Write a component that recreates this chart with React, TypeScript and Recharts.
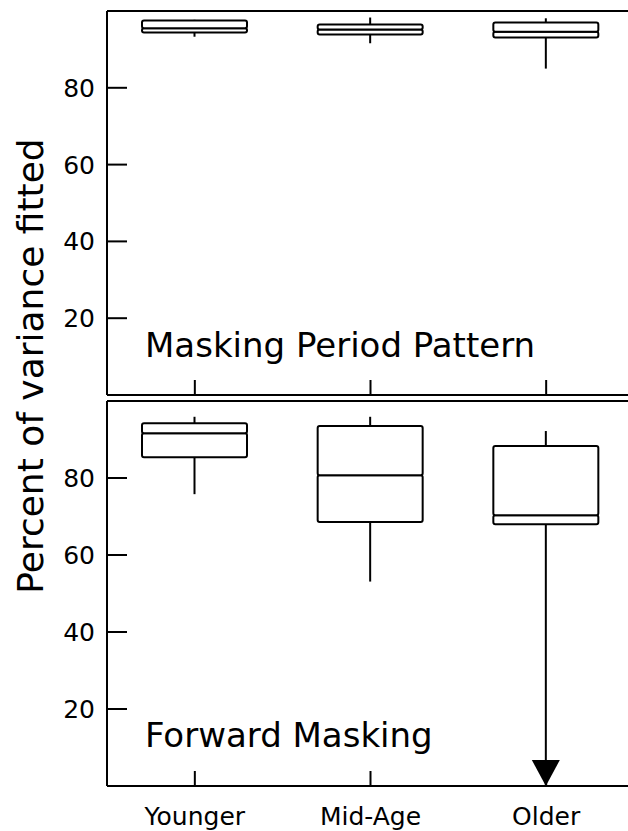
import React from "react"
import { Bar, ComposedChart, XAxis, YAxis } from "recharts"

const groups = ["Younger", "Mid-Age", "Older"]
const yTicks = [20, 40, 60, 80]

// Masking Period Pattern
const mppMin = [93.3, 91.6, 85.0]
const mppQ1 = [94.4, 93.9, 93.1]
const mppMedian = [95.5, 95.2, 94.6]
const mppQ3 = [97.5, 96.5, 97.0]
const mppMax = [97.7, 98.3, 98.1]

// Forward Masking (older group's lower whisker runs off the axis)
const fmMin = [75.8, 53.1, 0]
const fmQ1 = [85.4, 68.6, 68.0]
const fmMedian = [91.6, 80.7, 70.3]
const fmQ3 = [94.2, 93.5, 88.3]
const fmMax = [95.9, 95.9, 92.2]
const fmOffScale = [false, false, true]

const font = "'DejaVu Sans', sans-serif"
const line = { stroke: "#000", strokeWidth: 2 }

function buildRows(min: number[], q1: number[], med: number[], q3: number[], max: number[], off?: boolean[]) {
  return groups.map((name, i) => ({
    name,
    base: min[i],
    lowW: q1[i] - min[i],
    lowBox: med[i] - q1[i],
    highBox: q3[i] - med[i],
    highW: max[i] - q3[i],
    off: off ? off[i] : false,
  }))
}

const mppRows = buildRows(mppMin, mppQ1, mppMedian, mppQ3, mppMax)
const fmRows = buildRows(fmMin, fmQ1, fmMedian, fmQ3, fmMax, fmOffScale)

const Empty = () => <g />

const BoxPart = (p: any) => (
  <rect x={p.x} y={p.y} width={p.width} height={p.height} rx={2} fill="#fff" {...line} />
)

const HighWhisker = (p: any) => {
  const cx = p.x + p.width / 2
  return <line x1={cx} x2={cx} y1={p.y} y2={p.y + p.height} {...line} />
}

// lower whisker, with an arrow head when the value runs off the scale
const LowWhisker = (p: any) => {
  const cx = p.x + p.width / 2
  const bottom = p.y + p.height
  return (
    <g>
      <line x1={cx} x2={cx} y1={p.y} y2={bottom} {...line} />
      {p.payload && p.payload.off ? (
        <polygon points={`${cx - 14},${bottom - 26} ${cx + 14},${bottom - 26} ${cx},${bottom}`} fill="#000" />
      ) : null}
    </g>
  )
}

const LeftTick = (p: any) => (
  <g>
    <line x1={p.x} x2={p.x + 20} y1={p.y} y2={p.y} {...line} />
    <text x={p.x - 12} y={p.y + 9} textAnchor="end" fontSize={25} fontFamily={font} fill="#000">
      {p.payload.value}
    </text>
  </g>
)

const RightTick = (p: any) => <line x1={p.x} x2={p.x - 20} y1={p.y} y2={p.y} {...line} />

const makeBottomTick = (labels: boolean) => (p: any) => (
  <g>
    <line x1={p.x} x2={p.x} y1={p.y} y2={p.y - 15} {...line} />
    {labels ? (
      <text x={p.x} y={p.y + 39} textAnchor="middle" fontSize={25} fontFamily={font} fill="#000">
        {p.payload.value}
      </text>
    ) : null}
  </g>
)

function Panel({ rows, height, margin, xHeight, labels }: any) {
  return (
    <ComposedChart width={640} height={height} data={rows} margin={margin} barSize={105}>
      <XAxis dataKey="name" height={xHeight} axisLine={line} tickLine={false} tickSize={0} tickMargin={0}
        tick={makeBottomTick(labels)} interval={0} />
      <XAxis xAxisId="top" dataKey="name" orientation="top" height={1} axisLine={line} tick={false} tickLine={false} />
      <YAxis domain={[0, 100]} ticks={yTicks} width={107} axisLine={line} tickLine={false} tickSize={0}
        tickMargin={0} tick={LeftTick} interval={0} />
      <YAxis yAxisId="r" orientation="right" domain={[0, 100]} ticks={yTicks} width={6} axisLine={line}
        tickLine={false} tickSize={0} tickMargin={0} tick={RightTick} interval={0} />
      <Bar dataKey="base" stackId="a" shape={Empty} isAnimationActive={false} />
      <Bar dataKey="lowW" stackId="a" shape={LowWhisker} isAnimationActive={false} />
      <Bar dataKey="lowBox" stackId="a" shape={BoxPart} isAnimationActive={false} />
      <Bar dataKey="highBox" stackId="a" shape={BoxPart} isAnimationActive={false} />
      <Bar dataKey="highW" stackId="a" shape={HighWhisker} isAnimationActive={false} />
    </ComposedChart>
  )
}

export default function App() {
  return (
    <div style={{ position: "absolute", left: 0, top: 0, width: 628, height: 831, overflow: "hidden", background: "#fff" }}>
      <Panel rows={mppRows} height={398} margin={{ top: 10, right: 0, bottom: 2, left: 0 }} xHeight={1} labels={false} />
      <Panel rows={fmRows} height={433} margin={{ top: 2, right: 0, bottom: 0, left: 0 }} xHeight={45} labels={true} />
      <svg width={628} height={831} style={{ position: "absolute", left: 0, top: 0, pointerEvents: "none" }}>
        <text transform="translate(43,366) rotate(-90)" textAnchor="middle" fontSize={36} fontFamily={font} fill="#000">
          Percent of variance fitted
        </text>
        <text x={145} y={357} fontSize={34} fontFamily={font} fill="#000">Masking Period Pattern</text>
        <text x={145} y={747} fontSize={34} fontFamily={font} fill="#000">Forward Masking</text>
      </svg>
    </div>
  )
}
